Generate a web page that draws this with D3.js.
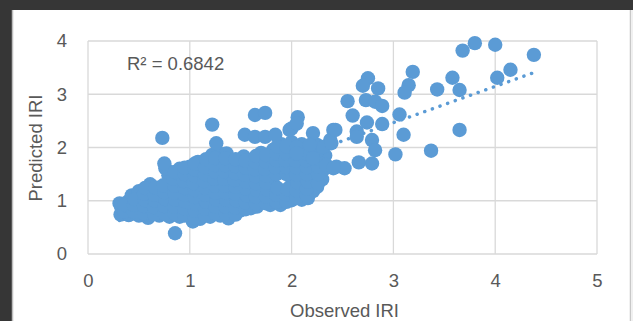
<!DOCTYPE html>
<html><head><meta charset="utf-8">
<script src="https://cdn.jsdelivr.net/npm/d3@7"></script>
<style>
html,body{margin:0;padding:0;background:#363636;}
svg{display:block;}
</style></head>
<body>
<svg id="c" width="633" height="321"></svg>
<script>
// ---- data ----
const xTicks = [0, 1, 2, 3, 4, 5];
const yTicks = [0, 1, 2, 3, 4];
const xTitle = "Observed IRI";
const yTitle = "Predicted IRI";
const r2Label = "R\u00B2 = 0.6842";
const trendSlope = 0.682;
const trendIntercept = 0.419;
const trendRange = [0.31, 4.38];

// main cluster (observed, predicted)
const clusterPoints = [
 [0.32,0.74],[0.33,0.86],[0.31,0.95],
 [0.40,0.73],[0.41,0.86],[0.39,0.98],[0.43,1.10],
 [0.50,0.72],[0.51,0.84],[0.49,0.97],[0.52,1.08],[0.50,1.18],
 [0.59,0.68],[0.61,0.80],[0.60,0.93],[0.62,1.05],[0.60,1.17],[0.61,1.31],
 [0.70,0.72],[0.69,0.85],[0.71,0.97],[0.70,1.10],[0.72,1.22],
 [0.80,0.70],[0.79,0.83],[0.81,0.96],[0.80,1.09],[0.78,1.22],[0.80,1.35],[0.79,1.48],[0.76,1.61],[0.75,1.70],
 [0.90,0.70],[0.91,0.82],[0.89,0.95],[0.90,1.08],[0.92,1.21],[0.90,1.34],[0.91,1.47],[0.90,1.60],
 [1.03,0.61],[1.00,0.74],[0.99,0.87],[1.01,1.00],[1.00,1.13],[1.02,1.26],[0.99,1.39],[1.01,1.52],[1.00,1.64],
 [1.10,0.66],[1.11,0.79],[1.09,0.92],[1.10,1.05],[1.12,1.18],[1.10,1.31],[1.09,1.44],[1.11,1.57],[1.08,1.73],
 [1.20,0.70],[1.21,0.83],[1.19,0.96],[1.20,1.09],[1.22,1.22],[1.20,1.35],[1.19,1.48],[1.21,1.61],[1.20,1.74],[1.22,1.86],
 [1.30,0.72],[1.31,0.85],[1.29,0.98],[1.30,1.11],[1.32,1.24],[1.30,1.37],[1.29,1.50],[1.31,1.63],[1.30,1.76],[1.28,1.90],[1.26,2.08],
 [1.38,0.67],[1.41,0.80],[1.39,0.93],[1.40,1.06],[1.42,1.19],[1.40,1.32],[1.39,1.45],[1.41,1.58],[1.40,1.71],[1.36,1.89],
 [1.50,0.82],[1.51,0.95],[1.49,1.08],[1.50,1.21],[1.52,1.34],[1.50,1.47],[1.49,1.60],[1.51,1.73],[1.53,1.83],
 [1.60,0.86],[1.61,0.99],[1.59,1.12],[1.60,1.25],[1.62,1.38],[1.60,1.51],[1.61,1.64],[1.62,1.76],
 [1.66,0.89],[1.71,1.00],[1.69,1.13],[1.70,1.26],[1.72,1.39],[1.70,1.52],[1.69,1.65],[1.71,1.78],[1.70,1.90],
 [1.79,0.92],[1.81,1.05],[1.80,1.18],[1.82,1.31],[1.79,1.57],[1.81,1.70],[1.80,1.83],[1.82,1.96],
 [1.89,0.92],[1.91,1.05],[1.90,1.18],[1.92,1.55],[1.90,1.68],[1.89,1.81],[1.91,1.94],[1.90,2.06],
 [2.00,1.01],[2.01,1.14],[1.99,1.27],[2.00,1.45],[2.02,1.58],[2.00,1.71],[1.99,1.84],[2.01,1.97],[2.00,2.10],
 [2.10,1.02],[2.11,1.15],[2.09,1.28],[2.10,1.41],[2.12,1.54],[2.10,1.67],[2.09,1.80],[2.11,1.93],[2.10,2.06],
 [2.16,1.05],[2.21,1.18],[2.19,1.31],[2.22,1.46],[2.20,1.59],[2.21,1.76],[2.18,1.95],[2.25,2.05],
 [2.25,1.26],[2.30,1.40],[2.31,1.58],[2.29,1.72],[2.33,1.85]
];

// further points inside the cluster
const clusterPoints2 = [
 [0.36,0.80],[0.36,0.92],[0.45,0.79],[0.45,0.92],[0.46,1.03],[0.55,0.76],[0.55,0.90],[0.56,1.01],[0.55,1.13],[0.56,1.24],
 [0.65,0.75],[0.65,0.88],[0.66,1.00],[0.65,1.12],[0.66,1.25],[0.75,0.76],[0.75,0.90],[0.76,1.03],[0.75,1.16],[0.74,1.29],
 [0.85,0.76],[0.85,0.89],[0.86,1.02],[0.85,1.15],[0.85,1.28],[0.84,1.41],[0.85,1.54],
 [0.95,0.72],[0.95,0.85],[0.96,0.98],[0.95,1.11],[0.95,1.24],[0.94,1.37],[0.95,1.50],[0.95,1.62],
 [1.05,0.68],[1.05,0.81],[1.06,0.94],[1.05,1.07],[1.05,1.20],[1.04,1.33],[1.05,1.46],[1.05,1.59],[1.05,1.70],
 [1.15,0.72],[1.15,0.85],[1.16,0.98],[1.15,1.11],[1.15,1.24],[1.14,1.37],[1.15,1.50],[1.15,1.63],[1.16,1.78],
 [1.25,0.76],[1.25,0.89],[1.26,1.02],[1.25,1.15],[1.25,1.28],[1.24,1.41],[1.25,1.54],[1.25,1.67],[1.25,1.80],
 [1.35,0.76],[1.35,0.89],[1.36,1.02],[1.35,1.15],[1.35,1.28],[1.34,1.41],[1.35,1.54],[1.35,1.67],[1.35,1.80],
 [1.45,0.74],[1.45,0.87],[1.46,1.00],[1.45,1.13],[1.45,1.26],[1.44,1.39],[1.45,1.52],[1.45,1.65],[1.45,1.78],
 [1.55,0.84],[1.55,0.97],[1.56,1.10],[1.55,1.23],[1.55,1.36],[1.54,1.49],[1.55,1.62],[1.55,1.75],
 [1.65,0.94],[1.65,1.07],[1.66,1.20],[1.65,1.33],[1.65,1.46],[1.64,1.59],[1.65,1.72],[1.65,1.84],
 [1.75,0.95],[1.75,1.08],[1.76,1.21],[1.75,1.34],[1.75,1.47],[1.74,1.60],[1.75,1.73],[1.75,1.86],
 [1.85,0.98],[1.85,1.11],[1.86,1.24],[1.85,1.50],[1.84,1.63],[1.85,1.76],[1.85,1.89],[1.86,2.02],
 [1.95,0.98],[1.95,1.11],[1.96,1.22],[1.95,1.50],[1.95,1.63],[1.94,1.76],[1.95,1.89],[1.95,2.02],
 [2.05,1.06],[2.05,1.19],[2.06,1.34],[2.05,1.49],[2.05,1.62],[2.04,1.75],[2.05,1.88],[2.05,2.01],
 [2.15,1.10],[2.15,1.23],[2.16,1.36],[2.15,1.50],[2.15,1.63],[2.14,1.76],[2.15,1.89],
 [2.26,1.33],[2.26,1.50],[2.26,1.64],[2.25,1.80],[2.25,1.93]
];

// scattered points outside the cluster
const outerPoints = [
 [0.73,2.18],[0.855,0.39],[1.22,2.43],[1.64,2.61],[1.74,2.65],
 [1.54,2.24],[1.64,2.20],[1.74,2.20],[1.84,2.24],
 [2.06,2.57],[2.00,2.36],[1.98,2.33],[2.05,2.45],[2.21,2.27],[2.41,2.33],[2.38,2.14],[2.31,2.01],
 [2.05,1.89],[2.18,2.05],[2.21,1.80],[2.34,1.67],[2.44,1.64],[2.52,1.61],[2.41,1.61],
 [2.55,2.87],[2.60,2.60],[2.73,2.89],[2.82,2.86],[2.89,2.78],[2.74,2.47],[2.64,2.30],[2.43,2.33],
 [2.39,2.08],[2.79,2.14],[2.82,1.95],[2.79,1.70],[2.66,1.72],[2.64,2.20],[2.89,2.44],
 [2.75,3.30],[2.70,3.16],[2.85,3.11],
 [3.06,2.62],[3.10,2.24],[3.02,1.87],[3.37,1.94],[3.65,2.33],
 [3.19,3.42],[3.15,3.17],[3.11,3.03],[3.43,3.09],[3.58,3.31],[3.65,3.08],
 [3.68,3.82],[3.80,3.96],[4.00,3.93],[4.38,3.74],[4.15,3.46],[4.02,3.31]
];
const points = clusterPoints.concat(clusterPoints2, outerPoints);

// ---- drawing ----
const svg = d3.select("#c");
const W = 633, H = 321;
// chart card
svg.append("rect").attr("x", 12).attr("y", 10).attr("width", W - 12).attr("height", H - 10).attr("fill", "#ffffff");
svg.append("line").attr("x1", 12.5).attr("x2", 12.5).attr("y1", 10).attr("y2", H).attr("stroke", "#bdbdbd").attr("stroke-width", 1.5);
svg.append("line").attr("x1", 630.5).attr("x2", 630.5).attr("y1", 10).attr("y2", H).attr("stroke", "#c8c8c8").attr("stroke-width", 1.5);
svg.append("rect").attr("x", 631.5).attr("y", 10).attr("width", 2).attr("height", H - 10).attr("fill", "#f0f0f0");

const x = d3.scaleLinear().domain([0, 5]).range([88, 597]);
const y = d3.scaleLinear().domain([0, 4]).range([254, 41]);

const font = "'Liberation Sans', Arial, sans-serif";
const txt = "#595959";
const blue = "#5b9bd5";

// gridlines
const grid = svg.append("g");
grid.selectAll(".gx").data(xTicks).join("line")
  .attr("x1", d => x(d)).attr("x2", d => x(d)).attr("y1", y(0)).attr("y2", y(4))
  .attr("stroke", "#d9d9d9").attr("stroke-width", 1.3);
grid.selectAll(".gy").data(yTicks).join("line")
  .attr("x1", x(0)).attr("x2", x(5)).attr("y1", d => y(d)).attr("y2", d => y(d))
  .attr("stroke", "#d9d9d9").attr("stroke-width", 1.3);

// axes (labels only)
const xAxis = svg.append("g").attr("transform", `translate(0,${y(0)})`)
  .call(d3.axisBottom(x).tickValues(xTicks).tickSize(0).tickPadding(20).tickFormat(d3.format("d")));
const yAxis = svg.append("g").attr("transform", `translate(${x(0)},0)`)
  .call(d3.axisLeft(y).tickValues(yTicks).tickSize(0).tickPadding(21).tickFormat(d3.format("d")));
[xAxis, yAxis].forEach(a => {
  a.select(".domain").remove();
  a.selectAll("text").attr("font-family", font).attr("font-size", 18.5).attr("fill", txt);
});

// trendline (dotted)
svg.append("line")
  .attr("x1", x(trendRange[0])).attr("y1", y(trendIntercept + trendSlope * trendRange[0]))
  .attr("x2", x(trendRange[1])).attr("y2", y(trendIntercept + trendSlope * trendRange[1]))
  .attr("stroke", blue).attr("stroke-width", 3.5).attr("stroke-linecap", "round")
  .attr("stroke-dasharray", "0.1,8");

// points
svg.append("g").selectAll("circle").data(points).join("circle")
  .attr("cx", d => x(d[0])).attr("cy", d => y(d[1])).attr("r", 7.2)
  .attr("fill", blue);

// R² label
svg.append("text").attr("x", 127).attr("y", 70).text(r2Label)
  .attr("font-family", font).attr("font-size", 18.5).attr("fill", txt);

// axis titles
svg.append("text").attr("x", 344.5).attr("y", 317).attr("text-anchor", "middle").text(xTitle)
  .attr("font-family", font).attr("font-size", 18.5).attr("fill", txt);
svg.append("text").attr("transform", "translate(42,148) rotate(-90)").attr("text-anchor", "middle").text(yTitle)
  .attr("font-family", font).attr("font-size", 18.5).attr("fill", txt);
</script>
</body></html>
